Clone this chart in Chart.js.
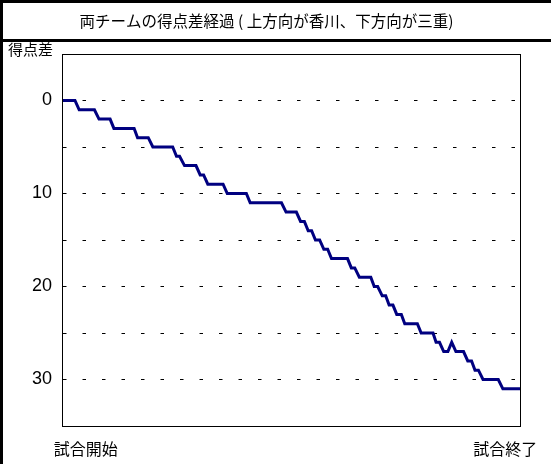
<!DOCTYPE html>
<html>
<head>
<meta charset="utf-8">
<script src="https://cdn.jsdelivr.net/npm/chart.js@4/dist/chart.umd.min.js"></script>
<style>
  html, body { margin: 0; padding: 0; background: #fff; }
  canvas { display: block; }
</style>
</head>
<body>
<canvas id="chart" width="551" height="464"></canvas>
<script>
// game time (0 = start, 120 = end) and score difference (down = 三重 ahead)
const times = [0, 3.4, 4.5, 8.5, 9.7, 12.6, 13.6, 18.9, 19.8, 22.6, 23.8, 29.0, 30.0, 30.8,
  32.1, 35.1, 36.2, 37.1, 38.2, 42.2, 43.3, 48.3, 49.3, 57.5, 58.7, 61.4, 62.5, 63.5,
  64.5, 65.4, 66.4, 67.5, 68.6, 69.6, 70.6, 74.8, 75.8, 76.7, 77.9, 80.9, 81.8, 82.7,
  83.9, 84.8, 85.7, 86.7, 87.7, 88.9, 89.8, 93.1, 94.1, 97.2, 98.0, 98.9, 100.0, 101.1,
  102.1, 103.2, 105.2, 106.3, 107.3, 108.2, 109.1, 110.3, 114.3, 115.5, 120];
const diffs = [0, 0, 1, 1, 2, 2, 3, 3, 4, 4, 5, 5, 6, 6,
  7, 7, 8, 8, 9, 9, 10, 10, 11, 11, 12, 12, 13, 13,
  14, 14, 15, 15, 16, 16, 17, 17, 18, 18, 19, 19, 20, 20,
  21, 21, 22, 22, 23, 23, 24, 24, 25, 25, 26, 26, 27, 27,
  26, 27, 27, 28, 28, 29, 29, 30, 30, 31, 31];

const xLabels = ['試合開始', '試合終了'];
const xLabelAt = [6.2, 116.1];
const yTickLabels = [0, 10, 20, 30];

const titleText = '両チームの得点差経過 ( 上方向が香川、下方向が三重)';
const yAxisTitle = '得点差';

const latin = '"Liberation Sans", Arial, "Noto Sans CJK JP", sans-serif';
const cjk = '"Noto Sans CJK JP", "Liberation Sans", sans-serif';

const framePlugin = {
    id: 'frame',
    beforeDraw(chart) {
        const ctx = chart.ctx;
        ctx.save();
        ctx.fillStyle = '#fff';
        ctx.fillRect(0, 0, chart.width, chart.height);
        ctx.restore();
    },
    afterDraw(chart) {
        const ctx = chart.ctx;
        const a = chart.chartArea;
        ctx.save();
        ctx.setLineDash([]);
        // outer frame + title box
        ctx.fillStyle = '#000';
        ctx.fillRect(0, 0, 3, chart.height);
        ctx.fillRect(0, 0, chart.width, 3);
        ctx.fillRect(0, 39, chart.width, 3);
        // plot box
        ctx.strokeStyle = '#000';
        ctx.lineWidth = 1;
        ctx.strokeRect(Math.round(a.left) + 0.5, Math.round(a.top) + 0.5,
            Math.round(a.right - a.left), Math.round(a.bottom - a.top));
        // title
        ctx.fillStyle = '#000';
        ctx.font = '15.5px ' + cjk;
        ctx.textAlign = 'center';
        ctx.textBaseline = 'middle';
        ctx.fillText(titleText, 266.5, 21);
        // y axis caption
        ctx.font = '15px ' + cjk;
        ctx.textAlign = 'left';
        ctx.fillText(yAxisTitle, 8, 49);
        ctx.restore();
    }
};

new Chart(document.getElementById('chart'), {
    type: 'line',
    data: {
        datasets: [{
            data: times.map((t, i) => ({ x: t, y: diffs[i] })),
            borderColor: '#000080',
            borderWidth: 3,
            pointRadius: 0,
            tension: 0,
            fill: false
        }]
    },
    options: {
        responsive: false,
        animation: false,
        events: [],
        layout: { padding: { left: 0, top: 54, right: 26, bottom: 0 } },
        plugins: {
            legend: { display: false },
            title: { display: false },
            tooltip: { enabled: false }
        },
        scales: {
            x: {
                type: 'linear',
                min: 0,
                max: 120,
                grid: { display: false, drawTicks: false },
                border: { display: true, color: '#000', width: 1 },
                afterBuildTicks: axis => { axis.ticks = xLabelAt.map(v => ({ value: v })); },
                afterFit: scale => { scale.height = 38; },
                ticks: {
                    autoSkip: false,
                    maxRotation: 0,
                    padding: 13,
                    color: '#000',
                    font: { family: cjk, size: 16 },
                    callback: (v, i) => xLabels[i]
                }
            },
            y: {
                reverse: true,
                min: -5,
                max: 35,
                afterFit: scale => { scale.width = 62; },
                grid: {
                    color: '#000',
                    lineWidth: 1,
                    drawTicks: false
                },
                // in v4 border.dash styles the grid lines
                border: { display: true, color: '#000', width: 1, dash: [3.5, 16], dashOffset: 0 },
                ticks: {
                    stepSize: 5,
                    padding: 10,
                    color: '#000',
                    font: { family: latin, size: 18 },
                    callback: v => yTickLabels.includes(v) ? String(v) : ''
                }
            }
        }
    },
    plugins: [framePlugin]
});
</script>
</body>
</html>
